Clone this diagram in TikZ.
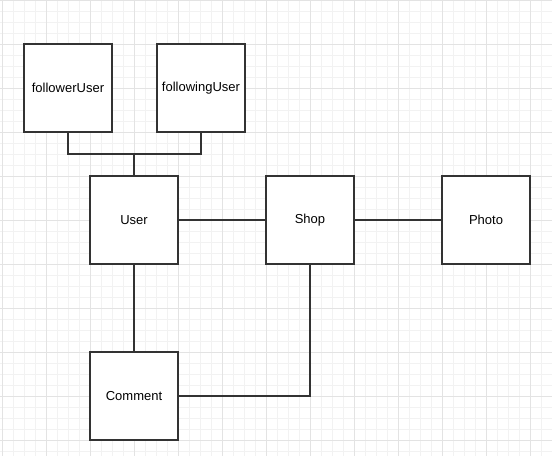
\documentclass[tikz,border=0pt]{standalone}
\usepackage{fontspec}
\setmainfont{Liberation Sans}
\begin{document}
\begin{tikzpicture}[x=1pt,y=-1pt,
  box/.style={draw=black!80,line width=1.2pt,fill=white,minimum width=88pt,minimum height=88pt,inner sep=0pt,font=\fontsize{13}{15}\selectfont},
  conn/.style={draw=black!80,line width=1.2pt}]
\useasboundingbox (0,0) rectangle (552,456);
\fill[white] (0,0) rectangle (552,456);
\foreach \i in {0,...,50} {\draw[black!5,line width=0.6pt] ({2+11*\i},0) -- ({2+11*\i},456);}
\foreach \i in {0,...,41} {\draw[black!5,line width=0.6pt] (0,{11*\i}) -- (552,{11*\i});}
\foreach \i in {0,...,12} {\draw[black!11,line width=0.6pt] ({2+44*\i},0) -- ({2+44*\i},456);}
\foreach \i in {0,...,10} {\draw[black!11,line width=0.6pt] (0,{44*\i}) -- (552,{44*\i});}
\node[box] (follower) at (68,88) {followerUser};
\node[box] (following) at (201,88) {followingUser};
\node[box] (user) at (134,220) {User};
\node[box] (shop) at (310,220) {Shop};
\node[box] (photo) at (486,220) {Photo};
\node[box] (comment) at (134,396) {Comment};
\coordinate (j) at (134,154);
\draw[conn] (follower.south) |- (j) -| (following.south);
\draw[conn] (j) -- (user.north);
\draw[conn] (user) -- (shop);
\draw[conn] (shop) -- (photo);
\draw[conn] (user) -- (comment);
\draw[conn] (comment.east) -| (shop.south);
\end{tikzpicture}
\end{document}
